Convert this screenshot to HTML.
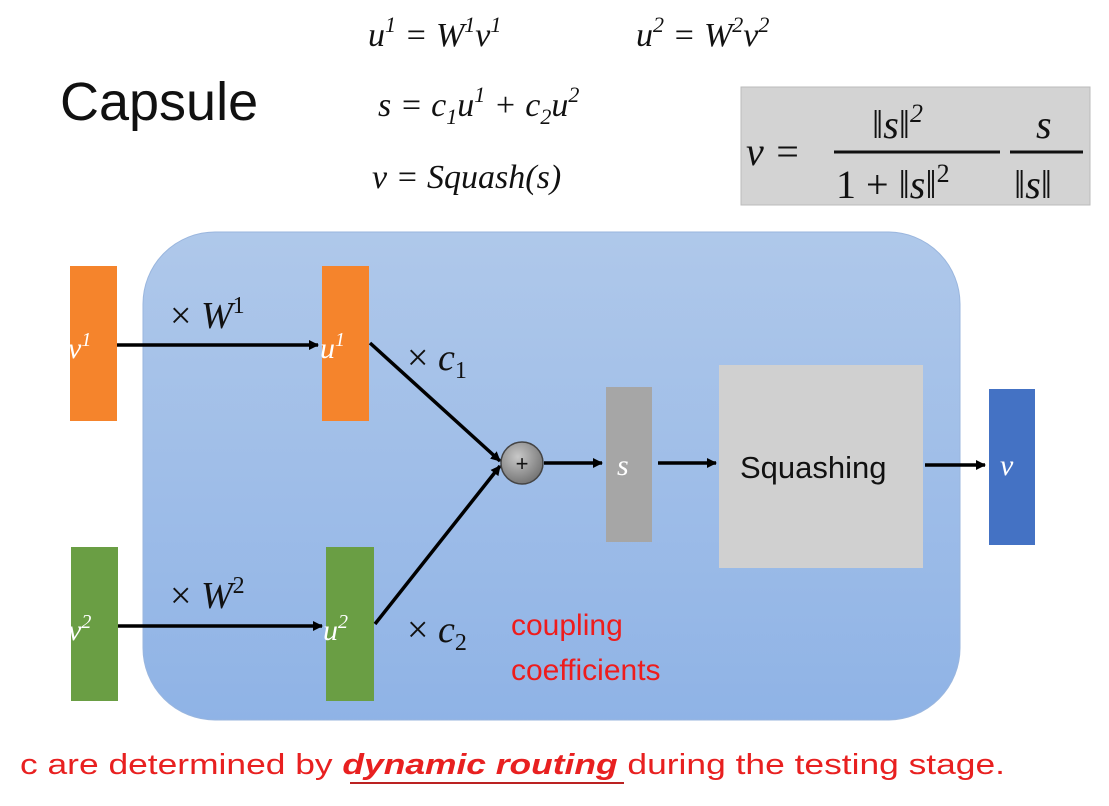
<!DOCTYPE html>
<html><head><meta charset="utf-8"><style>
html,body{margin:0;padding:0;background:#fff;}
svg{display:block;}
.m{font-family:"Liberation Serif",serif;font-style:italic;}
.n{font-family:"Liberation Serif",serif;}
.s{font-family:"Liberation Sans",sans-serif;}
</style></head><body>
<svg width="1109" height="806" viewBox="0 0 1109 806" xmlns="http://www.w3.org/2000/svg">
<defs>
<linearGradient id="bg" x1="0" y1="0" x2="0" y2="1"><stop offset="0" stop-color="#afc8ea"/><stop offset="1" stop-color="#8fb3e6"/></linearGradient>
<radialGradient id="pl" cx="0.4" cy="0.35" r="0.7"><stop offset="0" stop-color="#c8c8c8"/><stop offset="1" stop-color="#707070"/></radialGradient>
<marker id="a" markerWidth="10" markerHeight="10" refX="9" refY="5" orient="auto" markerUnits="userSpaceOnUse"><path d="M0,0 L10,5 L0,10 Z" fill="#000"/></marker>
</defs>
<rect width="1109" height="806" fill="#fff"/>
<text x="60" y="120" class="s" font-size="54" fill="#111">Capsule</text>
<text x="368" y="46" class="m" font-size="34" fill="#111">u<tspan font-size="22" dy="-14" class="n">1</tspan><tspan dy="14"> = W</tspan><tspan font-size="22" dy="-14" class="n">1</tspan><tspan dy="14">v</tspan><tspan font-size="22" dy="-14" class="n">1</tspan></text>
<text x="636" y="46" class="m" font-size="34" fill="#111">u<tspan font-size="22" dy="-14" class="n">2</tspan><tspan dy="14"> = W</tspan><tspan font-size="22" dy="-14" class="n">2</tspan><tspan dy="14">v</tspan><tspan font-size="22" dy="-14" class="n">2</tspan></text>
<text x="378" y="116" class="m" font-size="34" fill="#111">s = c<tspan font-size="22" dy="8" class="n">1</tspan><tspan dy="-8">u</tspan><tspan font-size="22" dy="-14" class="n">1</tspan><tspan dy="14"> + c</tspan><tspan font-size="22" dy="8" class="n">2</tspan><tspan dy="-8">u</tspan><tspan font-size="22" dy="-14" class="n">2</tspan></text>
<text x="372" y="188" class="m" font-size="34" fill="#111">v = Squash(s)</text>
<rect x="741" y="87" width="349" height="118" fill="#d3d3d3" stroke="#bbb"/>
<text x="746" y="165" class="m" font-size="40" fill="#111">v =</text>
<line x1="834" y1="152" x2="1000" y2="152" stroke="#111" stroke-width="3"/>
<line x1="1010" y1="152" x2="1083" y2="152" stroke="#111" stroke-width="3"/>
<text x="872" y="138" class="m" font-size="40" fill="#111">‖s‖<tspan font-size="26" dy="-16" class="n">2</tspan></text>
<text x="836" y="198" class="n" font-size="40" fill="#111">1 + <tspan class="m">‖s‖</tspan><tspan font-size="26" dy="-16">2</tspan></text>
<text x="1036" y="138" class="m" font-size="40" fill="#111">s</text>
<text x="1014" y="198" class="m" font-size="40" fill="#111">‖s‖</text>
<rect x="143" y="232" width="817" height="488" rx="72" fill="url(#bg)" stroke="#9ab6de"/>
<rect x="70" y="266" width="47" height="155" fill="#f5842c"/>
<rect x="322" y="266" width="47" height="155" fill="#f5842c"/>
<rect x="71" y="547" width="47" height="154" fill="#6a9e44"/>
<rect x="326" y="547" width="48" height="154" fill="#6a9e44"/>
<rect x="606" y="387" width="46" height="155" fill="#a6a6a6"/>
<rect x="719" y="365" width="204" height="203" fill="#d0d0d0"/>
<rect x="989" y="389" width="46" height="156" fill="#4472c4"/>
<g class="m" font-size="30" fill="#fff">
<text x="68" y="358">v<tspan class="n" font-size="20" dy="-12">1</tspan></text>
<text x="320" y="358">u<tspan class="n" font-size="20" dy="-12">1</tspan></text>
<text x="68" y="640">v<tspan class="n" font-size="20" dy="-12">2</tspan></text>
<text x="323" y="640">u<tspan class="n" font-size="20" dy="-12">2</tspan></text>
<text x="617" y="475">s</text>
<text x="1000" y="475">v</text>
</g>
<g stroke="#000" stroke-width="3.5" marker-end="url(#a)">
<line x1="117" y1="345" x2="318" y2="345"/>
<line x1="118" y1="626" x2="322" y2="626"/>
<line x1="370" y1="343" x2="500" y2="461"/>
<line x1="375" y1="624" x2="500" y2="466"/>
<line x1="544" y1="463" x2="602" y2="463"/>
<line x1="658" y1="463" x2="716" y2="463"/>
<line x1="925" y1="465" x2="985" y2="465"/>
</g>
<circle cx="522" cy="463" r="21" fill="url(#pl)" stroke="#444" stroke-width="1.5"/>
<text x="522" y="471" text-anchor="middle" class="s" font-size="22" fill="#111">+</text>
<text x="740" y="478" class="s" font-size="31" fill="#111">Squashing</text>
<g font-size="38" fill="#111">
<text x="170" y="328" class="n">× <tspan class="m">W</tspan><tspan font-size="24" dy="-15">1</tspan></text>
<text x="170" y="608" class="n">× <tspan class="m">W</tspan><tspan font-size="24" dy="-15">2</tspan></text>
<text x="407" y="370" class="n">× <tspan class="m">c</tspan><tspan font-size="24" dy="8">1</tspan></text>
<text x="407" y="642" class="n">× <tspan class="m">c</tspan><tspan font-size="24" dy="8">2</tspan></text>
</g>
<text x="511" y="635" class="s" font-size="30" fill="#ee1c1c">coupling</text>
<text x="511" y="680" class="s" font-size="30" fill="#ee1c1c">coefficients</text>
<text x="20" y="774" class="s" font-size="29" fill="#e82020" textLength="985" lengthAdjust="spacingAndGlyphs">c are determined by <tspan font-weight="bold" font-style="italic">dynamic routing</tspan> during the testing stage.</text>
<line x1="350" y1="783" x2="624" y2="783" stroke="#b22" stroke-width="2"/>
</svg>
</body></html>
